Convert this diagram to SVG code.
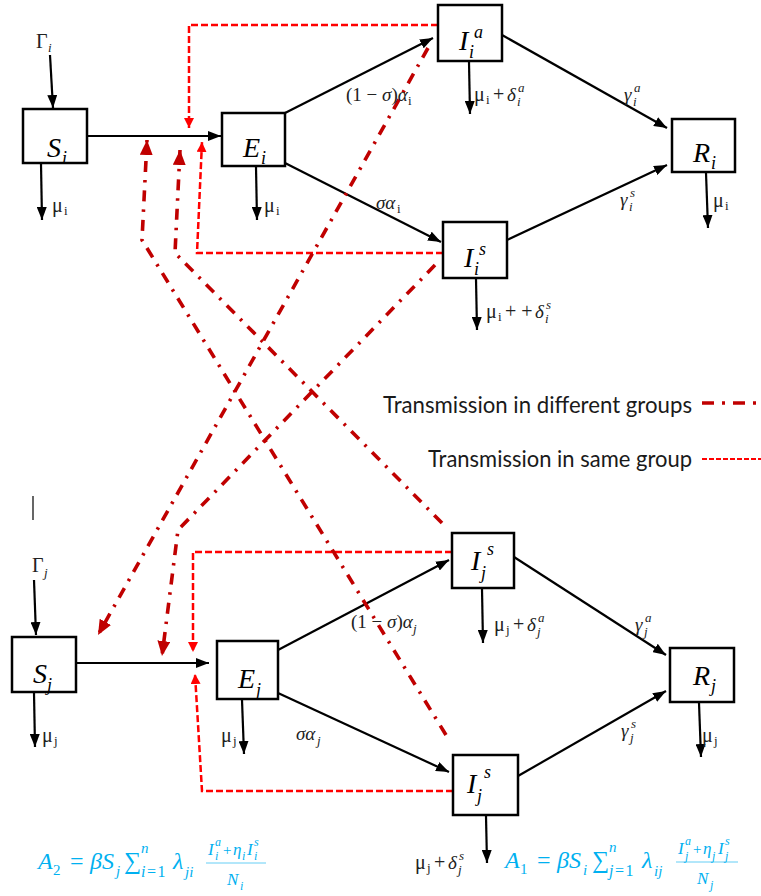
<svg xmlns="http://www.w3.org/2000/svg" width="761" height="896" viewBox="0 0 761 896">
<defs>
<style>
.box{fill:#fff;stroke:#000;stroke-width:2.5}
.arr{stroke:#000;stroke-width:2.2;fill:none;marker-end:url(#ah)}
.sameA{stroke:#FF0000;stroke-width:2.5;stroke-dasharray:7 3;fill:none;marker-end:url(#ahr)}
.diff{stroke:#C00000;stroke-width:3.6;stroke-dasharray:11 8 2.5 8;fill:none;marker-end:url(#ahd)}
.nl{font-family:"Liberation Serif",serif;font-style:italic;font-size:28px;fill:#000}
.ns{font-family:"Liberation Serif",serif;font-style:italic;font-size:18px;fill:#000}
.m{font-family:"Liberation Serif",serif;font-size:20px;fill:#222}
.mi{font-family:"Liberation Serif",serif;font-style:italic;font-size:19px;fill:#222}
.sm{font-family:"Liberation Serif",serif;font-style:italic;font-size:13px;fill:#222}
.smu{font-family:"Liberation Serif",serif;font-size:13px;fill:#222}
.leg{font-family:Lato,"Liberation Sans",sans-serif;font-size:23px;fill:#1a1a1a}
.f{font-family:"Liberation Serif",serif;font-style:italic;font-size:24px;fill:#00B0F0}
.fu{font-family:"Liberation Serif",serif;font-size:24px;fill:#00B0F0}
.fs{font-family:"Liberation Serif",serif;font-style:italic;font-size:15px;fill:#00B0F0}
.fsu{font-family:"Liberation Serif",serif;font-size:15px;fill:#00B0F0}
.fl{font-family:"Liberation Serif",serif;font-size:16px;fill:#00B0F0;letter-spacing:1.5px}
.fn{font-family:"Liberation Serif",serif;font-style:italic;font-size:17px;fill:#00B0F0}
.fnu{font-family:"Liberation Serif",serif;font-size:15px;fill:#00B0F0}
.fx{font-family:"Liberation Serif",serif;font-style:italic;font-size:12px;fill:#00B0F0}
.bar{stroke:#00B0F0;stroke-width:1;opacity:0.6}
</style>
<marker id="ah" markerUnits="userSpaceOnUse" markerWidth="13" markerHeight="10" refX="13" refY="5" orient="auto"><path d="M0,0 L13,5 L0,10 z" fill="#000"/></marker>
<marker id="ahr" markerUnits="userSpaceOnUse" markerWidth="10" markerHeight="10" refX="10" refY="5" orient="auto"><path d="M0,0 L10,5 L0,10 z" fill="#FF0000"/></marker>
<marker id="ahd" markerUnits="userSpaceOnUse" markerWidth="15" markerHeight="13" refX="15" refY="6.5" orient="auto"><path d="M0,0 L15,6.5 L0,13 z" fill="#C00000"/></marker>
</defs>
<rect width="761" height="896" fill="#fff"/>

<g id="connectors">
<line class="arr" x1="50" y1="55" x2="53" y2="108"/>
<line class="arr" x1="41" y1="164" x2="42" y2="220"/>
<line class="arr" x1="87" y1="136" x2="221" y2="136"/>
<line class="arr" x1="256" y1="167" x2="257" y2="220"/>
<line class="arr" x1="285" y1="113" x2="433" y2="38"/>
<line class="arr" x1="285" y1="163" x2="441" y2="242"/>
<line class="arr" x1="469" y1="62" x2="470" y2="114"/>
<line class="arr" x1="502" y1="35" x2="667" y2="128"/>
<line class="arr" x1="507" y1="240" x2="667" y2="165"/>
<line class="arr" x1="476" y1="279" x2="477" y2="330"/>
<line class="arr" x1="706" y1="173" x2="708" y2="228"/>

<line class="arr" x1="34" y1="580" x2="36" y2="635"/>
<line class="arr" x1="34" y1="693" x2="35" y2="747"/>
<line class="arr" x1="76" y1="663" x2="209" y2="663"/>
<line class="arr" x1="242" y1="700" x2="244" y2="754"/>
<line class="arr" x1="278" y1="650" x2="449" y2="560"/>
<line class="arr" x1="278" y1="693" x2="449" y2="772"/>
<line class="arr" x1="482" y1="589" x2="483" y2="643"/>
<line class="arr" x1="514" y1="557" x2="666" y2="655"/>
<line class="arr" x1="518" y1="776" x2="666" y2="691"/>
<line class="arr" x1="486" y1="816" x2="487" y2="863"/>
<line class="arr" x1="699" y1="703" x2="701" y2="757"/>

<polyline class="sameA" points="438,25 189,25 189,128"/>
<polyline class="sameA" points="443,253 197,253 202,142"/>
<polyline class="sameA" points="452,552 193,552 193,652"/>
<polyline class="sameA" points="453,791 202,791 195,674"/>

<polyline class="diff" points="428,48 98,635"/>
<polyline class="diff" points="435,265 178,530 162,656"/>
<polyline class="diff" points="442,523 175,253 180,150"/>
<polyline class="diff" points="446,735 142,240 147,140"/>
</g>

<g id="S_i"><rect class="box" x="23" y="109" width="64" height="54"/><text class="nl" x="47" y="157">S</text><text class="ns" x="62" y="164">i</text></g>
<g id="E_i"><rect class="box" x="222" y="113" width="63" height="53"/><text class="nl" x="243" y="157">E</text><text class="ns" x="261" y="164">i</text></g>
<g id="I_i_a"><rect class="box" x="438" y="5" width="64" height="56"/><text class="nl" x="459" y="50">I</text><text class="ns" x="469" y="58">i</text><text class="ns" x="474" y="38">a</text></g>
<g id="I_i_s"><rect class="box" x="443" y="222" width="64" height="56"/><text class="nl" x="464" y="267">I</text><text class="ns" x="474" y="275">i</text><text class="ns" x="479" y="255">s</text></g>
<g id="R_i"><rect class="box" x="672" y="119" width="63" height="53"/><text class="nl" x="693" y="162">R</text><text class="ns" x="711" y="169">i</text></g>

<g id="S_j"><rect class="box" x="12" y="637" width="64" height="55"/><text class="nl" x="33" y="683">S</text><text class="ns" x="47" y="691">j</text></g>
<g id="E_j"><rect class="box" x="217" y="641" width="61" height="58"/><text class="nl" x="238" y="688">E</text><text class="ns" x="256" y="696">j</text></g>
<g id="I_j_s_up"><rect class="box" x="452" y="533" width="62" height="55"/><text class="nl" x="471" y="570">I</text><text class="ns" x="481" y="579">j</text><text class="ns" x="487" y="555">s</text></g>
<g id="I_j_s_low"><rect class="box" x="453" y="755" width="65" height="60"/><text class="nl" x="467" y="793">I</text><text class="ns" x="477" y="802">j</text><text class="ns" x="484" y="778">s</text></g>
<g id="R_j"><rect class="box" x="670" y="648" width="64" height="54"/><text class="nl" x="693" y="685">R</text><text class="ns" x="711" y="692">j</text></g>

<g id="labels">
<text class="m" x="36" y="48">Γ</text><text class="sm" x="48" y="52">i</text>
<text class="m" x="52" y="212">μ</text><text class="smu" x="64" y="215">i</text>
<text class="m" x="264" y="212">μ</text><text class="smu" x="276" y="215">i</text>
<text class="mi" x="346" y="101"><tspan font-style="normal">(1 − </tspan>σ<tspan font-style="normal">)</tspan>α</text><text class="smu" x="408" y="105">i</text>
<text class="mi" x="376" y="209">σα</text><text class="smu" x="397" y="213">i</text>
<text class="m" x="474" y="101">μ</text><text class="smu" x="486" y="104">i</text><text class="m" x="493" y="101">+</text><text class="mi" x="507" y="101">δ</text><text class="sm" x="517" y="106">i</text><text class="sm" x="518" y="92">a</text>
<text class="mi" x="624" y="101">γ</text><text class="sm" x="633" y="106">i</text><text class="sm" x="634" y="92">a</text>
<text class="mi" x="620" y="206">γ</text><text class="sm" x="629" y="211">i</text><text class="sm" x="630" y="197">s</text>
<text class="m" x="713" y="207">μ</text><text class="smu" x="725" y="210">i</text>
<text class="m" x="486" y="318">μ</text><text class="smu" x="498" y="321">i</text><text class="m" x="505" y="318">+ +</text><text class="mi" x="535" y="318">δ</text><text class="sm" x="545" y="323">i</text><text class="sm" x="546" y="309">s</text>

<text class="m" x="32" y="572">Γ</text><text class="sm" x="44" y="577">j</text>
<text class="m" x="42" y="742">μ</text><text class="smu" x="54" y="745">j</text>
<text class="m" x="221" y="742">μ</text><text class="smu" x="233" y="745">j</text>
<text class="mi" x="296" y="740">σα</text><text class="sm" x="317" y="745">j</text>
<text class="mi" x="351" y="628"><tspan font-style="normal">(1 − </tspan>σ<tspan font-style="normal">)</tspan>α</text><text class="sm" x="413" y="633">j</text>
<text class="m" x="494" y="631">μ</text><text class="smu" x="506" y="634">j</text><text class="m" x="513" y="631">+</text><text class="mi" x="527" y="631">δ</text><text class="sm" x="537" y="636">j</text><text class="sm" x="538" y="622">a</text>
<text class="mi" x="635" y="631">γ</text><text class="sm" x="644" y="636">j</text><text class="sm" x="645" y="622">a</text>
<text class="mi" x="621" y="737">γ</text><text class="sm" x="630" y="742">j</text><text class="sm" x="631" y="728">s</text>
<text class="m" x="702" y="742">μ</text><text class="smu" x="714" y="745">j</text>
<text class="m" x="415" y="869">μ</text><text class="smu" x="427" y="872">j</text><text class="m" x="434" y="869">+</text><text class="mi" x="448" y="869">δ</text><text class="sm" x="458" y="874">j</text><text class="sm" x="459" y="860">s</text>
</g>

<g id="legend">
<text class="leg" x="383" y="413" textLength="309" lengthAdjust="spacingAndGlyphs">Transmission in different groups</text>
<line x1="702" y1="403" x2="761" y2="403" stroke="#C00000" stroke-width="3.6" stroke-dasharray="12 8 3 8"/>
<text class="leg" x="428" y="467" textLength="264" lengthAdjust="spacingAndGlyphs">Transmission in same group</text>
<line x1="702" y1="459" x2="761" y2="459" stroke="#FF0000" stroke-width="2" stroke-dasharray="5 2"/>
<line x1="33" y1="496" x2="33" y2="520" stroke="#000" stroke-width="1.2"/>
</g>

<g id="formula_A2">
<text class="f" x="38" y="869">A</text><text class="fsu" x="53" y="875">2</text>
<text class="fu" x="70" y="869">=</text>
<text class="f" x="90" y="869">βS</text><text class="fs" x="116" y="876">j</text>
<text class="fu" x="124" y="869">∑</text><text class="fs" x="141" y="853">n</text><text class="fl" x="141" y="877"><tspan font-style="italic">i</tspan>=1</text>
<text class="f" x="173" y="869">λ</text><text class="fs" x="185" y="877">ji</text>
<text class="fn" x="208" y="855">I</text><text class="fx" x="215" y="846">a</text><text class="fx" x="215" y="860">i</text><text class="fnu" x="223" y="855">+</text><text class="fn" x="233" y="855">η</text><text class="fx" x="242" y="860">i</text><text class="fn" x="247" y="855">I</text><text class="fx" x="254" y="846">s</text><text class="fx" x="254" y="860">i</text>
<line class="bar" x1="206" y1="863" x2="266" y2="863"/>
<text class="fn" x="227" y="885">N</text><text class="fx" x="240" y="890">i</text>
</g>

<g id="formula_A1">
<text class="f" x="505" y="868">A</text><text class="fsu" x="520" y="874">1</text>
<text class="fu" x="537" y="868">=</text>
<text class="f" x="557" y="868">βS</text><text class="fs" x="583" y="875">i</text>
<text class="fu" x="592" y="868">∑</text><text class="fs" x="609" y="852">n</text><text class="fl" x="609" y="876"><tspan font-style="italic">j</tspan>=1</text>
<text class="f" x="642" y="868">λ</text><text class="fs" x="654" y="876">ij</text>
<text class="fn" x="678" y="854">I</text><text class="fx" x="685" y="845">a</text><text class="fx" x="685" y="860">j</text><text class="fnu" x="693" y="854">+</text><text class="fn" x="703" y="854">η</text><text class="fx" x="712" y="860">j</text><text class="fn" x="718" y="854">I</text><text class="fx" x="725" y="845">s</text><text class="fx" x="725" y="860">j</text>
<line class="bar" x1="676" y1="862" x2="738" y2="862"/>
<text class="fn" x="697" y="884">N</text><text class="fx" x="710" y="889">j</text>
</g>
</svg>
